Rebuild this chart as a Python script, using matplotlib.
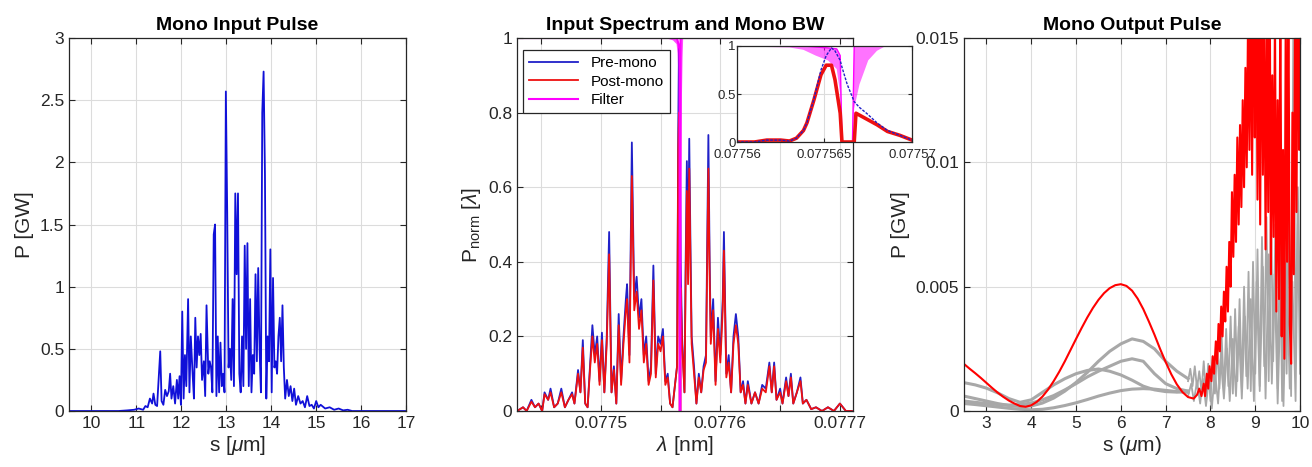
import matplotlib
matplotlib.use("Agg")
import matplotlib.pyplot as plt
from matplotlib.ticker import FixedLocator, FuncFormatter

# ---- data ----

# Mono input pulse: (s [um], P [GW])
input_pulse = [
    (9.5, 0), (10.6, 0), (10.8, 0.005), (10.95, 0.01), (11.05, 0.02), (11.15, 0.01),
    (11.2, 0.04), (11.25, 0.03), (11.3, 0.1), (11.35, 0.06), (11.38, 0.14), (11.42, 0.05),
    (11.46, 0.04), (11.5, 0.3), (11.53, 0.48), (11.56, 0.08), (11.6, 0.05), (11.64, 0.17),
    (11.68, 0.12), (11.72, 0.16), (11.75, 0.3), (11.78, 0.1), (11.82, 0.2), (11.86, 0.06),
    (11.9, 0.25), (11.93, 0.1), (11.96, 0.28), (11.99, 0.05), (12.02, 0.8), (12.05, 0.1),
    (12.08, 0.45), (12.11, 0.2), (12.15, 0.9), (12.18, 0.15), (12.21, 0.6), (12.25, 0.3),
    (12.28, 0.1), (12.31, 0.75), (12.34, 0.35), (12.37, 0.6), (12.4, 0.45), (12.43, 0.62),
    (12.46, 0.25), (12.5, 0.4), (12.53, 0.12), (12.56, 0.85), (12.6, 0.3), (12.63, 0.4),
    (12.66, 0.35), (12.69, 0.15), (12.72, 1.42), (12.75, 1.5), (12.78, 0.12), (12.81, 0.6),
    (12.84, 0.15), (12.87, 0.55), (12.9, 0.2), (12.93, 0.3), (12.96, 0.15), (12.99, 2.57),
    (13.02, 1.6), (13.05, 0.35), (13.08, 0.5), (13.11, 0.25), (13.14, 0.9), (13.17, 0.2),
    (13.2, 1.75), (13.23, 1.1), (13.26, 1.75), (13.29, 0.3), (13.32, 0.15), (13.35, 0.6),
    (13.38, 0.2), (13.41, 1.33), (13.44, 0.5), (13.47, 1.35), (13.5, 0.2), (13.53, 0.9),
    (13.56, 0.15), (13.59, 0.45), (13.62, 0.3), (13.65, 1.1), (13.68, 0.4), (13.71, 1.15),
    (13.74, 0.5), (13.77, 0.15), (13.8, 2.4), (13.83, 2.73), (13.86, 1.9), (13.89, 0.1),
    (13.92, 0.6), (13.95, 0.4), (13.98, 1.3), (14.01, 0.15), (14.04, 1.07), (14.07, 0.35),
    (14.1, 0.4), (14.13, 0.3), (14.16, 0.6), (14.19, 0.75), (14.22, 0.4), (14.25, 0.85),
    (14.28, 0.35), (14.31, 0.1), (14.35, 0.25), (14.39, 0.12), (14.43, 0.2), (14.47, 0.08),
    (14.51, 0.18), (14.55, 0.05), (14.6, 0.12), (14.65, 0.06), (14.7, 0.08), (14.75, 0.03),
    (14.8, 0.12), (14.85, 0.04), (14.9, 0.05), (14.95, 0.02), (15.0, 0.08), (15.05, 0.03),
    (15.1, 0.05), (15.2, 0.02), (15.3, 0.03), (15.4, 0.01), (15.5, 0.02), (15.6, 0.005),
    (15.7, 0.01), (15.8, 0), (16.0, 0), (17.0, 0),
]

# Input spectrum: (lambda [nm], pre-mono, post-mono)
spectrum = [
    (0.07743, 0.0, 0.0), (0.077435, 0.01, 0.01), (0.077438, 0.0, 0.0), (0.077442, 0.03, 0.025),
    (0.077445, 0.01, 0.01), (0.077448, 0.02, 0.02), (0.077451, 0.0, 0.0), (0.077453, 0.05, 0.045),
    (0.077456, 0.03, 0.03), (0.077458, 0.06, 0.05), (0.077461, 0.01, 0.01), (0.077464, 0.02, 0.02),
    (0.077467, 0.06, 0.05), (0.07747, 0.01, 0.01), (0.077473, 0.03, 0.03), (0.077476, 0.05, 0.045),
    (0.077478, 0.02, 0.02), (0.077481, 0.11, 0.1), (0.077483, 0.05, 0.05), (0.077485, 0.19, 0.17),
    (0.077487, 0.02, 0.02), (0.077489, 0.01, 0.01), (0.077491, 0.12, 0.11), (0.077493, 0.23, 0.2),
    (0.077495, 0.15, 0.13), (0.077497, 0.2, 0.18), (0.077499, 0.08, 0.07), (0.077501, 0.21, 0.19),
    (0.077503, 0.05, 0.05), (0.077505, 0.2, 0.18), (0.077507, 0.48, 0.42), (0.077509, 0.05, 0.05),
    (0.077511, 0.12, 0.11), (0.077513, 0.02, 0.02), (0.077515, 0.26, 0.23), (0.077517, 0.08, 0.07),
    (0.077519, 0.2, 0.18), (0.077521, 0.3, 0.27), (0.077522, 0.34, 0.3), (0.077524, 0.15, 0.13),
    (0.077526, 0.72, 0.63), (0.077528, 0.3, 0.27), (0.07753, 0.36, 0.32), (0.077532, 0.25, 0.22),
    (0.077534, 0.3, 0.27), (0.077536, 0.15, 0.13), (0.077538, 0.2, 0.18), (0.07754, 0.08, 0.07),
    (0.077542, 0.12, 0.1), (0.077544, 0.39, 0.35), (0.077546, 0.1, 0.09), (0.077548, 0.2, 0.18),
    (0.07755, 0.18, 0.16), (0.077552, 0.22, 0.2), (0.077554, 0.08, 0.07), (0.077556, 0.1, 0.09),
    (0.077558, 0.02, 0.02), (0.07756, 0.01, 0.01), (0.0775638, 0.12, 0.12), (0.0775648, 0.75, 0.7),
    (0.0775654, 0.98, 0.8), (0.077566, 0.8, 0.0), (0.0775667, 0.45, 0.0), (0.0775668, 0.4, 0.33),
    (0.077568, 0.2, 0.18), (0.07757, 0.05, 0.05), (0.077571, 0.4, 0.36), (0.077572, 0.67, 0.59),
    (0.077573, 0.38, 0.34), (0.077574, 0.73, 0.65), (0.077575, 0.45, 0.4), (0.077576, 0.2, 0.18),
    (0.077578, 0.12, 0.1), (0.07758, 0.02, 0.02), (0.077582, 0.1, 0.09), (0.077584, 0.05, 0.05),
    (0.077586, 0.12, 0.11), (0.077588, 0.15, 0.13), (0.07759, 0.74, 0.65), (0.077591, 0.42, 0.37),
    (0.077592, 0.2, 0.18), (0.077594, 0.3, 0.27),
    (0.077596, 0.08, 0.07), (0.077598, 0.25, 0.22), (0.0776, 0.15, 0.13), (0.077602, 0.3, 0.27),
    (0.077603, 0.48, 0.43), (0.077605, 0.1, 0.09), (0.077607, 0.15, 0.13), (0.077609, 0.05, 0.05),
    (0.077611, 0.2, 0.18), (0.077613, 0.26, 0.23), (0.077615, 0.2, 0.18), (0.077617, 0.05, 0.05),
    (0.077619, 0.08, 0.07), (0.077621, 0.02, 0.02), (0.077623, 0.08, 0.07), (0.077626, 0.02, 0.02),
    (0.077629, 0.05, 0.05), (0.077632, 0.02, 0.02), (0.077635, 0.07, 0.06), (0.077638, 0.06, 0.05),
    (0.077641, 0.13, 0.12), (0.077643, 0.05, 0.05), (0.077645, 0.13, 0.12), (0.077647, 0.03, 0.03),
    (0.07765, 0.06, 0.05), (0.077652, 0.02, 0.02), (0.077655, 0.09, 0.08), (0.077657, 0.04, 0.04),
    (0.077659, 0.1, 0.09), (0.077661, 0.02, 0.02), (0.077664, 0.05, 0.05), (0.077667, 0.09, 0.08),
    (0.077669, 0.02, 0.02), (0.077672, 0.03, 0.03), (0.077676, 0.005, 0.005), (0.07768, 0.01, 0.01),
    (0.077685, 0.0, 0.0), (0.07769, 0.01, 0.01), (0.077695, 0.0, 0.0), (0.0777, 0.02, 0.02),
    (0.077705, 0.0, 0.0), (0.07771, 0.0, 0.0),
]

# Mono filter transmission: (lambda, upper, lower)
mono_filter = [
    (0.07743, 1.0, 1.0), (0.077555, 1.0, 1.0), (0.07756, 1.0, 0.995), (0.077563, 1.0, 0.985),
    (0.0775638, 1.0, 0.96), (0.0775645, 0.99, 0.9), (0.0775652, 0.98, 0.85), (0.0775657, 0.97, 0.76),
    (0.0775659, 0.9, 0.5), (0.077566, 0.0, 0.0), (0.0775666, 0.0, 0.0), (0.0775667, 1.0, 0.35),
    (0.077567, 1.0, 0.6), (0.0775675, 1.0, 0.85), (0.077568, 1.0, 0.95), (0.0775685, 1.0, 1.0),
    (0.07771, 1.0, 1.0),
]

# Zoomed spectrum near the mono line: (lambda, pre-mono, post-mono)
spectrum_zoom = [
    (0.07756, 0.0, 0.0), (0.077561, 0.0, 0.0), (0.0775617, 0.02, 0.02), (0.0775625, 0.02, 0.02),
    (0.077563, 0.01, 0.01), (0.0775634, 0.04, 0.04), (0.0775638, 0.12, 0.12), (0.077564, 0.2, 0.2),
    (0.0775644, 0.45, 0.44), (0.0775648, 0.75, 0.7), (0.0775651, 0.9, 0.8), (0.0775654, 0.98, 0.8),
    (0.0775656, 0.95, 0.65), (0.0775659, 0.85, 0.3), (0.077566, 0.78, 0.0), (0.0775663, 0.6, 0.0),
    (0.0775667, 0.42, 0.0), (0.0775668, 0.4, 0.3), (0.077567, 0.36, 0.28), (0.0775674, 0.3, 0.24),
    (0.077568, 0.2, 0.18), (0.0775686, 0.12, 0.11), (0.0775693, 0.07, 0.07), (0.07757, 0.02, 0.02),
]

# Mono output pulse, red (selected) curve: (s [um], P [GW])
output_red = [
    (2.5, 0.00189), (2.625, 0.0017), (2.75, 0.00152), (2.875, 0.00133), (3.0, 0.00113),
    (3.125, 0.00093), (3.25, 0.00074), (3.375, 0.00057), (3.5, 0.00042), (3.625, 0.0003),
    (3.75, 0.0002), (3.875, 0.00017), (4.0, 0.00023), (4.125, 0.00037), (4.25, 0.00058),
    (4.375, 0.00086), (4.5, 0.0012), (4.625, 0.00158), (4.75, 0.002), (4.875, 0.00245),
    (5.0, 0.0029), (5.125, 0.00334), (5.25, 0.00376), (5.375, 0.00414), (5.5, 0.00447),
    (5.625, 0.00474), (5.75, 0.00494), (5.875, 0.00506), (6.0, 0.0051), (6.125, 0.00503),
    (6.25, 0.00484), (6.375, 0.00452), (6.5, 0.0041), (6.625, 0.0036), (6.75, 0.00307),
    (6.875, 0.0025), (7.0, 0.00197), (7.125, 0.00148), (7.25, 0.00107), (7.375, 0.00076),
    (7.5, 0.00056), (7.625, 0.0005), (7.7, 0.00065), (7.75, 0.0009),
    (7.8, 0.0006), (7.85, 0.0011), (7.88, 0.0006), (7.92, 0.0015), (7.95, 0.0009), (7.98, 0.0018),
    (8.02, 0.0012), (8.05, 0.0022), (8.08, 0.0015), (8.12, 0.0028), (8.15, 0.0019), (8.18, 0.0035),
    (8.21, 0.0024), (8.24, 0.0042), (8.27, 0.003), (8.3, 0.0048), (8.33, 0.0036), (8.36, 0.0058),
    (8.39, 0.004), (8.42, 0.0068), (8.45, 0.005), (8.48, 0.0088), (8.51, 0.0062), (8.54, 0.0095),
    (8.57, 0.0068), (8.6, 0.011), (8.63, 0.0075), (8.66, 0.0115), (8.69, 0.0082), (8.72, 0.0125),
    (8.75, 0.009), (8.78, 0.0138), (8.81, 0.0098), (8.84, 0.016), (8.87, 0.0105), (8.9, 0.0175),
    (8.93, 0.0095), (8.96, 0.019), (8.99, 0.011), (9.02, 0.018), (9.05, 0.0085), (9.08, 0.0165),
    (9.11, 0.0075), (9.14, 0.019), (9.17, 0.0095), (9.2, 0.017), (9.23, 0.0065), (9.26, 0.0155),
    (9.29, 0.008), (9.32, 0.0185), (9.35, 0.0055), (9.38, 0.0135), (9.41, 0.007), (9.44, 0.016),
    (9.47, 0.004), (9.5, 0.0125), (9.53, 0.0045), (9.56, 0.017), (9.59, 0.003), (9.62, 0.0105),
    (9.65, 0.0021), (9.68, 0.016), (9.71, 0.006), (9.74, 0.0175), (9.77, 0.0035), (9.8, 0.0019),
    (9.83, 0.012), (9.86, 0.0055), (9.89, 0.0165), (9.92, 0.008), (9.95, 0.018), (9.98, 0.0105),
    (10.0, 0.015),
]

# Other mono settings (grey), smooth part
grey_s = [2.5, 2.75, 3.0, 3.25, 3.5, 3.75, 4.0, 4.25, 4.5, 4.75, 5.0,
          5.25, 5.5, 5.75, 6.0, 6.25, 6.5, 6.75, 7.0, 7.25, 7.5]
grey_1 = [0.00114, 0.00105, 0.00092, 0.00073, 0.0005, 0.00035, 0.00045, 0.00075, 0.00105, 0.0013, 0.0015,
          0.00163, 0.00169, 0.0016, 0.00145, 0.00124, 0.001, 0.00085, 0.00078, 0.00076, 0.0008]
grey_2 = [0.0006, 0.0005, 0.0004, 0.0003, 0.00022, 0.00018, 0.0002, 0.00032, 0.00052, 0.0008, 0.00115,
          0.00155, 0.002, 0.0024, 0.0027, 0.0029, 0.0028, 0.0025, 0.002, 0.0016, 0.0013]
grey_3 = [0.0004, 0.00035, 0.0003, 0.00026, 0.00024, 0.00026, 0.00032, 0.00045, 0.00062, 0.00085, 0.0011,
          0.00137, 0.0016, 0.0018, 0.002, 0.0021, 0.002, 0.0015, 0.0011, 0.0009, 0.0008]
grey_4 = [0.0003, 0.00026, 0.00021, 0.00016, 0.00011, 0.00007, 0.00005, 0.00007, 0.00013, 0.00022, 0.00033,
          0.00046, 0.0006, 0.00072, 0.00082, 0.00088, 0.0009, 0.00088, 0.00083, 0.00078, 0.00075]

# Other mono settings (grey), noisy tail
grey_tail_a = [
    (7.5, 0.0012), (7.55, 0.0017), (7.6, 0.001), (7.65, 0.0018), (7.7, 0.0009), (7.75, 0.0016),
    (7.8, 0.0008), (7.85, 0.002), (7.9, 0.0006), (7.95, 0.0019), (8.0, 0.0004), (8.05, 0.0022),
    (8.1, 0.0007), (8.15, 0.0026), (8.2, 0.0009), (8.25, 0.003), (8.3, 0.0008), (8.35, 0.0033),
    (8.4, 0.001), (8.45, 0.0038), (8.5, 0.0007), (8.55, 0.0041), (8.6, 0.0012), (8.65, 0.0045),
    (8.7, 0.0009), (8.75, 0.005), (8.8, 0.0014), (8.85, 0.0056), (8.9, 0.0008), (8.95, 0.006),
    (9.0, 0.0015), (9.05, 0.0065), (9.1, 0.001), (9.15, 0.007), (9.2, 0.0018), (9.25, 0.0078),
    (9.3, 0.0012), (9.35, 0.0082), (9.4, 0.002), (9.45, 0.0075), (9.5, 0.0009), (9.55, 0.0068),
    (9.6, 0.0004), (9.65, 0.0072), (9.7, 0.0015), (9.75, 0.0085), (9.8, 0.0006), (9.85, 0.0155),
    (9.9, 0.002), (9.95, 0.009), (10.0, 0.004),
]
grey_tail_b = [
    (7.5, 0.0006), (7.57, 0.0011), (7.63, 0.0004), (7.7, 0.0012), (7.77, 0.0003), (7.83, 0.0013),
    (7.9, 0.0002), (7.97, 0.0014), (8.03, 0.0001), (8.1, 0.0016), (8.17, 0.0003), (8.23, 0.0021),
    (8.3, 0.0005), (8.37, 0.0025), (8.43, 0.0004), (8.5, 0.0029), (8.57, 0.0006), (8.63, 0.0034),
    (8.7, 0.0005), (8.77, 0.0038), (8.83, 0.0009), (8.9, 0.0045), (8.97, 0.0004), (9.03, 0.0052),
    (9.1, 0.0008), (9.17, 0.0058), (9.23, 0.0005), (9.3, 0.0063), (9.37, 0.0011), (9.43, 0.0055),
    (9.5, 0.0003), (9.57, 0.0049), (9.63, 0.0002), (9.7, 0.006), (9.77, 0.0009), (9.83, 0.0052),
    (9.9, 0.0004), (9.95, 0.0075), (10.0, 0.0015),
]

# ---- style ----
plt.rcParams["font.family"] = ["Liberation Sans", "DejaVu Sans"]
plt.rcParams["mathtext.fontset"] = "custom"
plt.rcParams["mathtext.rm"] = "Liberation Sans"
plt.rcParams["mathtext.it"] = "Liberation Sans:italic"
TXT = "#262626"
GRID = "#dcdcdc"
fmt = FuncFormatter(lambda v, _: "%g" % v)


def style(ax, fs=12.5):
    ax.tick_params(direction="in", top=True, right=True, length=4, width=0.8,
                   labelsize=fs, colors=TXT, which="both")
    for sp in ax.spines.values():
        sp.set_color(TXT)
        sp.set_linewidth(0.9)
    ax.grid(True, which="both", color=GRID, linewidth=0.8)
    ax.set_axisbelow(True)
    ax.xaxis.set_major_formatter(fmt)
    ax.yaxis.set_major_formatter(fmt)


fig = plt.figure(figsize=(13.12, 4.67), dpi=100)
ax1 = fig.add_axes([0.0526, 0.1199, 0.2569, 0.7987])
ax2 = fig.add_axes([0.3941, 0.1199, 0.2561, 0.7987])
ax3 = fig.add_axes([0.7348, 0.1199, 0.2561, 0.7987])
axi = fig.add_axes([0.5617, 0.6959, 0.1334, 0.2056])

# panel 1
s1, p1 = zip(*input_pulse)
ax1.plot(s1, p1, color="#1010d8", linewidth=1.3)
ax1.set_xlim(9.5, 17)
ax1.set_ylim(0, 3)
ax1.xaxis.set_major_locator(FixedLocator(range(10, 18)))
ax1.yaxis.set_major_locator(FixedLocator([0, 0.5, 1, 1.5, 2, 2.5, 3]))
style(ax1)
ax1.set_title("Mono Input Pulse", fontsize=14, fontweight="bold", pad=6)
ax1.set_xlabel("s [$\\mu$m]", fontsize=15, color=TXT, labelpad=2)
ax1.set_ylabel("P [GW]", fontsize=15, color=TXT)

# panel 2
lam, pre, post = zip(*spectrum)
flam, fup, flo = zip(*mono_filter)
ax2.plot(lam, pre, color="#2020c8", linewidth=1.3, label="Pre-mono")
ax2.plot(lam, post, color="#ee1010", linewidth=1.3, label="Post-mono")
ax2.fill_between(flam, flo, fup, color="#ff00ff", linewidth=0, alpha=0.7)
ax2.plot(flam, fup, color="#ff00ff", linewidth=1.5, label="Filter")
ax2.set_xlim(0.07743, 0.077711)
ax2.set_ylim(0, 1)
ax2.xaxis.set_major_locator(FixedLocator([0.0775, 0.0776, 0.0777]))
ax2.xaxis.set_minor_locator(FixedLocator([0.07745, 0.07755, 0.07765]))
ax2.yaxis.set_major_locator(FixedLocator([0, 0.2, 0.4, 0.6, 0.8, 1]))
style(ax2)
ax2.set_title("Input Spectrum and Mono BW", fontsize=14, fontweight="bold", pad=6)
ax2.set_xlabel("$\\lambda$ [nm]", fontsize=15, color=TXT, labelpad=2)
ax2.set_ylabel("P$_{\\rm norm}$ [$\\lambda$]", fontsize=15, color=TXT)
leg = ax2.legend(loc="upper left", bbox_to_anchor=(0.018, 0.968), borderaxespad=0,
                 fontsize=11, fancybox=False, framealpha=1, edgecolor=TXT,
                 handlelength=3.2, borderpad=0.4, labelspacing=0.3)
leg.get_frame().set_linewidth(0.9)

# inset
zl, zpre, zpost = zip(*spectrum_zoom)
axi.fill_between(flam, flo, fup, color="#ff00ff", linewidth=0, alpha=0.55)
axi.plot(flam, fup, color="#ff00ff", linewidth=1.0)
axi.plot(zl, zpost, color="#ee1010", linewidth=2.6)
axi.plot(zl, zpre, color="#2020c8", linewidth=1.0, linestyle=(0, (2, 1)))
axi.set_xlim(0.07756, 0.07757)
axi.set_ylim(0, 1)
axi.xaxis.set_major_locator(FixedLocator([0.07756, 0.077565, 0.07757]))
axi.yaxis.set_major_locator(FixedLocator([0, 0.5, 1]))
style(axi, fs=9.5)
axi.tick_params(axis="y", pad=1, length=3)
axi.tick_params(axis="x", pad=5, length=3)

# panel 3
for g in (grey_1, grey_2, grey_3, grey_4):
    ax3.plot(grey_s, g, color="#a8a8a8", linewidth=2.2)
for tail in (grey_tail_a, grey_tail_b):
    ts, tp = zip(*tail)
    ax3.plot(ts, tp, color="#a8a8a8", linewidth=1.3)
rs, rp = zip(*output_red)
ax3.plot(rs, rp, color="#ff0000", linewidth=1.5)
ax3.set_xlim(2.5, 10)
ax3.set_ylim(0, 0.015)
ax3.xaxis.set_major_locator(FixedLocator(range(3, 11)))
ax3.yaxis.set_major_locator(FixedLocator([0, 0.005, 0.01, 0.015]))
style(ax3)
ax3.set_title("Mono Output Pulse", fontsize=14, fontweight="bold", pad=6)
ax3.set_xlabel("s ($\\mu$m)", fontsize=15, color=TXT, labelpad=2)
ax3.set_ylabel("P [GW]", fontsize=15, color=TXT)

fig.savefig("out.png", dpi=100)
